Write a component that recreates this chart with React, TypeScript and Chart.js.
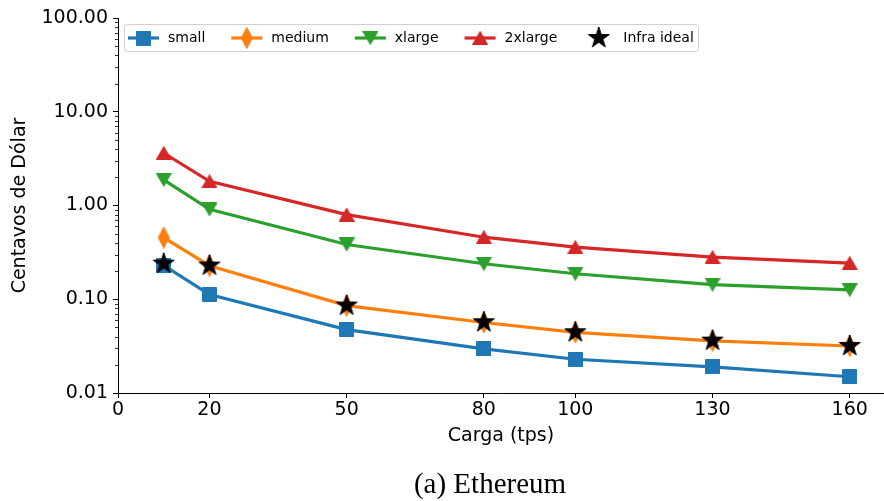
import React, { useEffect, useRef } from "react";
import { Chart, registerables } from "chart.js";

Chart.register(...registerables);

const loads = [10, 20, 50, 80, 100, 130, 160];
const smallCost = [0.23, 0.112, 0.0475, 0.0295, 0.0229, 0.019, 0.0149];
const mediumCost = [0.455, 0.228, 0.0855, 0.0565, 0.0443, 0.036, 0.0317];
const xlargeCost = [1.88, 0.91, 0.384, 0.239, 0.187, 0.1435, 0.126];
const xxlargeCost = [3.63, 1.81, 0.8, 0.459, 0.359, 0.281, 0.243];
const idealCost = [0.24, 0.229, 0.0857, 0.0569, 0.0445, 0.0362, 0.0318];

const xTickValues = [0, 20, 50, 80, 100, 130, 160];
const seriesNames = ["small", "medium", "xlarge", "2xlarge", "Infra ideal"];
const seriesColors = ["#1f77b4", "#ff7f0e", "#2ca02c", "#d62728", "#000000"];
const seriesMarkers = ["square", "thinDiamond", "triDown", "triUp", "star"];

const FONT = "'DejaVu Sans', sans-serif";
const W = 884;
const H = 501;

function makeMarker(kind: string, color: string): HTMLCanvasElement {
  const c = document.createElement("canvas");
  let w = 15, h = 15;
  if (kind === "thinDiamond") { w = 12; h = 22; }
  if (kind === "triUp" || kind === "triDown") { w = 16; h = 14; }
  if (kind === "star") { w = 24; h = 24; }
  c.width = w; c.height = h;
  const ctx = c.getContext("2d")!;
  ctx.fillStyle = color;
  ctx.strokeStyle = color;
  ctx.lineWidth = 1;
  ctx.lineJoin = "miter";
  ctx.beginPath();
  if (kind === "square") {
    ctx.rect(0.5, 0.5, w - 1, h - 1);
  } else if (kind === "thinDiamond") {
    ctx.moveTo(w / 2, 0.5); ctx.lineTo(w - 0.5, h / 2); ctx.lineTo(w / 2, h - 0.5); ctx.lineTo(0.5, h / 2); ctx.closePath();
  } else if (kind === "triUp") {
    ctx.moveTo(w / 2, 0.5); ctx.lineTo(w - 0.5, h - 0.5); ctx.lineTo(0.5, h - 0.5); ctx.closePath();
  } else if (kind === "triDown") {
    ctx.moveTo(0.5, 0.5); ctx.lineTo(w - 0.5, 0.5); ctx.lineTo(w / 2, h - 0.5); ctx.closePath();
  } else if (kind === "star") {
    const cx = w / 2, cy = h / 2, R = 11, r = 11 * 0.381966;
    for (let i = 0; i < 10; i++) {
      const rad = i % 2 === 0 ? R : r;
      const a = -Math.PI / 2 + (i * Math.PI) / 5;
      const px = cx + rad * Math.cos(a), py = cy + rad * Math.sin(a);
      if (i === 0) ctx.moveTo(px, py); else ctx.lineTo(px, py);
    }
    ctx.closePath();
  }
  ctx.fill();
  ctx.stroke();
  return c;
}

export default function App() {
  const ref = useRef<HTMLCanvasElement | null>(null);

  useEffect(() => {
    document.body.style.margin = "0";
    const canvas = ref.current!;
    const markers = seriesMarkers.map((m, i) => makeMarker(m, seriesColors[i]));
    const values = [smallCost, mediumCost, xlargeCost, xxlargeCost, idealCost];

    const datasets = values.map((vals, i) => ({
      label: seriesNames[i],
      data: loads.map((x, j) => ({ x, y: vals[j] })),
      borderColor: seriesColors[i],
      backgroundColor: seriesColors[i],
      borderWidth: 3.2,
      showLine: i < 4,
      pointStyle: markers[i] as any,
      pointRadius: 8,
      order: 5 - i,
      tension: 0,
    }));

    const isMajor = (v: number) => Math.abs(Math.log10(v) - Math.round(Math.log10(v))) < 1e-9;

    const extras = {
      id: "extras",
      afterDatasetsDraw(chart: any) {
        const ctx = chart.ctx;
        // minor y ticks
        const ys = chart.scales.y;
        ctx.save();
        ctx.strokeStyle = "#000";
        ctx.lineWidth = 0.8;
        ys.ticks.forEach((t: any) => {
          if (!isMajor(t.value)) {
            const py = Math.round(ys.getPixelForValue(t.value)) + 0.5;
            ctx.beginPath();
            ctx.moveTo(ys.right - 3, py);
            ctx.lineTo(ys.right, py);
            ctx.stroke();
          }
        });
        ctx.restore();

        // legend
        ctx.save();
        ctx.font = `14px ${FONT}`;
        const cy = 38;
        const bx = 124.5, by = 24.5, bw = 574, bh = 27;
        ctx.fillStyle = "rgba(255,255,255,0.85)";
        ctx.strokeStyle = "#d0d0d0";
        ctx.lineWidth = 1;
        ctx.beginPath();
        (ctx as any).roundRect(bx, by, bw, bh, 3);
        ctx.fill();
        ctx.stroke();
        let x = 128;
        chart.data.datasets.forEach((ds: any, i: number) => {
          if (ds.showLine) {
            ctx.strokeStyle = seriesColors[i];
            ctx.lineWidth = 3.2;
            ctx.beginPath();
            ctx.moveTo(x, cy);
            ctx.lineTo(x + 31, cy);
            ctx.stroke();
          }
          const m = markers[i];
          ctx.drawImage(m, x + 15.5 - m.width / 2, cy - m.height / 2);
          ctx.fillStyle = "#000";
          ctx.textBaseline = "middle";
          ctx.textAlign = "left";
          ctx.fillText(ds.label, x + 40, cy);
          x += 40 + ctx.measureText(ds.label).width + 26;
        });
        ctx.restore();

        // caption
        ctx.save();
        ctx.fillStyle = "#000";
        ctx.font = "29px 'Liberation Serif', serif";
        ctx.textAlign = "center";
        ctx.textBaseline = "alphabetic";
        ctx.fillText("(a) Ethereum", 490, 493);
        ctx.restore();
      },
    };

    const chart = new Chart(canvas, {
      type: "line",
      data: { datasets: datasets as any },
      options: {
        animation: false,
        responsive: false,
        events: [],
        layout: { autoPadding: false, padding: { left: 0, top: 18, right: 0, bottom: 0 } },
        plugins: { legend: { display: false }, tooltip: { enabled: false } },
        scales: {
          x: {
            type: "linear",
            min: 0,
            max: 167.5,
            afterFit: (s: any) => { s.height = H - 393; s.paddingLeft = 0; s.paddingRight = 0; },
            afterBuildTicks: (s: any) => { s.ticks = xTickValues.map((v) => ({ value: v })); },
            ticks: {
              autoSkip: false,
              maxRotation: 0,
              padding: 1,
              color: "#000",
              font: { family: FONT, size: 19 },
              callback: (v: any) => String(v),
            },
            grid: { display: true, drawOnChartArea: false, drawTicks: true, tickLength: 5, tickColor: "#000" },
            border: { display: true, color: "#000", width: 1 },
            title: {
              display: true,
              text: "Carga (tps)",
              color: "#000",
              font: { family: FONT, size: 19 },
              padding: { top: 0, bottom: 54 },
            },
          },
          y: {
            type: "logarithmic",
            min: 0.01,
            max: 100,
            afterFit: (s: any) => { s.width = 118; s.paddingTop = 0; s.paddingBottom = 0; },
            afterBuildTicks: (s: any) => {
              const t: any[] = [];
              for (let e = -2; e <= 2; e++) {
                for (let m = 1; m <= 9; m++) {
                  const v = parseFloat((m * Math.pow(10, e)).toPrecision(6));
                  if (v <= 100) t.push({ value: v });
                }
              }
              s.ticks = t;
            },
            ticks: {
              autoSkip: false,
              padding: 5,
              color: "#000",
              font: { family: FONT, size: 19 },
              callback: (v: any) => (isMajor(Number(v)) ? Number(v).toFixed(2) : ""),
            },
            grid: {
              display: true,
              drawOnChartArea: false,
              drawTicks: true,
              tickLength: 5,
              tickColor: (c: any) => (c.tick && isMajor(c.tick.value) ? "#000" : "rgba(0,0,0,0)"),
            },
            border: { display: true, color: "#000", width: 1 },
            title: {
              display: true,
              text: "Centavos de Dólar",
              color: "#000",
              font: { family: FONT, size: 19 },
              padding: { top: 9, bottom: 0 },
            },
          },
        },
      } as any,
      plugins: [extras],
    });
    return () => chart.destroy();
  }, []);

  return (
    <div style={{ width: W, height: H, position: "relative" }}>
      <canvas ref={ref} width={W} height={H} style={{ width: W, height: H, display: "block" }} />
    </div>
  );
}
